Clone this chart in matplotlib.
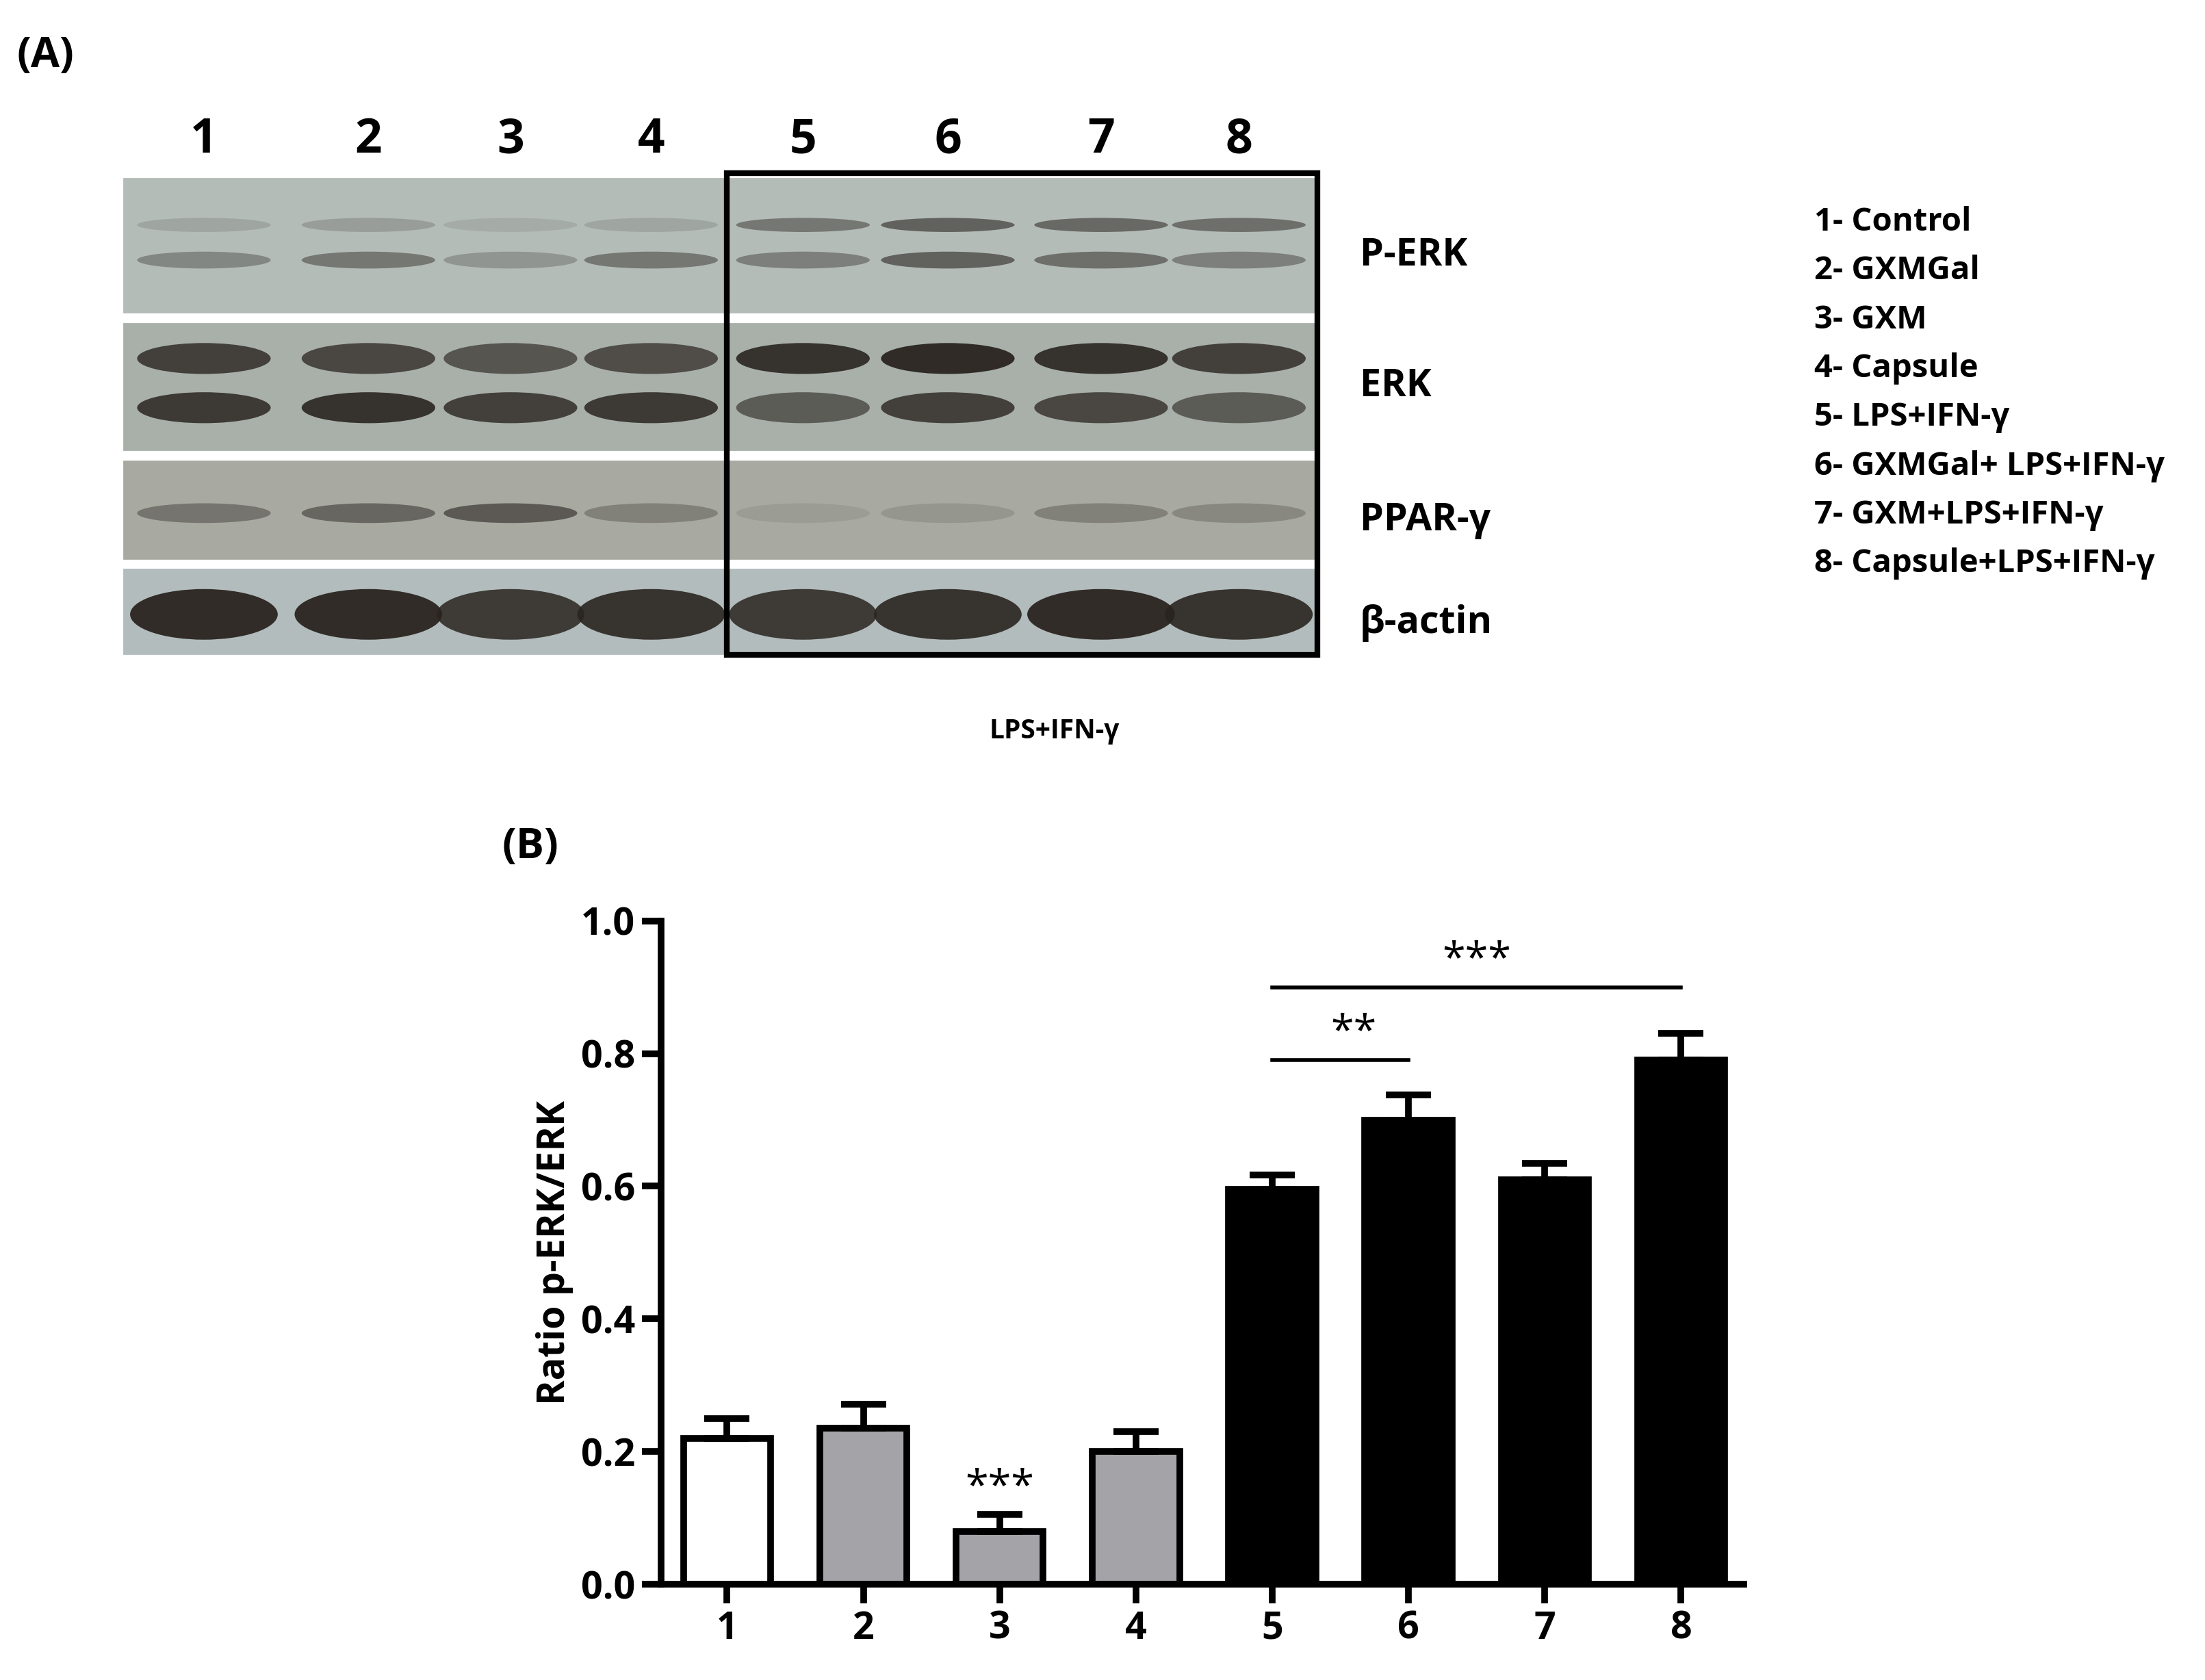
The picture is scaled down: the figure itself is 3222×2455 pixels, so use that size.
import matplotlib
matplotlib.use("Agg")
import matplotlib.pyplot as plt
from matplotlib.patches import Rectangle, Ellipse
import numpy as np

plt.rcParams['font.family'] = ['Open Sans', 'DejaVu Sans']

# Panel B data
lanes = [1, 2, 3, 4, 5, 6, 7, 8]
ratio = [0.22, 0.235, 0.08, 0.20, 0.595, 0.70, 0.61, 0.79]
err = [0.03, 0.037, 0.025, 0.03, 0.022, 0.038, 0.025, 0.04]
bar_colors = ["white", "#a3a3a8", "#a3a3a8", "#a3a3a8", "black", "black", "black", "black"]

# Panel A (blot) approximations: band intensities per lane
row_names = ["P-ERK", "ERK", "PPAR-γ", "β-actin"]
perk_top = [0.15, 0.2, 0.1, 0.15, 0.45, 0.6, 0.55, 0.5]
perk_bot = [0.35, 0.45, 0.25, 0.45, 0.4, 0.6, 0.5, 0.4]
erk_top = [0.8, 0.75, 0.65, 0.7, 0.9, 0.95, 0.9, 0.8]
erk_bot = [0.85, 0.9, 0.8, 0.85, 0.6, 0.8, 0.75, 0.6]
ppar = [0.4, 0.5, 0.6, 0.3, 0.1, 0.15, 0.3, 0.25]
actin = [0.95, 0.95, 0.85, 0.9, 0.85, 0.9, 0.95, 0.9]
legend_items = ["1- Control", "2- GXMGal", "3- GXM", "4- Capsule", "5- LPS+IFN-γ",
                "6- GXMGal+ LPS+IFN-γ", "7- GXM+LPS+IFN-γ", "8- Capsule+LPS+IFN-γ"]

W, H = 1568, 1195
fig = plt.figure(figsize=(3222 / 200, 2455 / 200), dpi=200)
ax0 = fig.add_axes([0, 0, 1, 1])
ax0.set_xlim(0, W)
ax0.set_ylim(H, 0)
ax0.axis("off")

lane_x = [145, 262, 363, 463, 571, 674, 783, 881]
rows = [(127, 222, "#b4bcb8"), (230, 320, "#a9b0aa"), (328, 397, "#a8aaa2"), (405, 465, "#b2bcbc")]
for (y0, y1, c) in rows:
    ax0.add_patch(Rectangle((88, y0), 849, y1 - y0, color=c, zorder=1))


def bands(vals, yc, h, w=95):
    for x, v in zip(lane_x, vals):
        ax0.add_patch(Ellipse((x, yc), w, h, color="#2a2420", alpha=v, lw=0, zorder=2))


bands(perk_top, 160, 10)
bands(perk_bot, 185, 12)
bands(erk_top, 255, 22)
bands(erk_bot, 290, 22)
bands(ppar, 365, 14)
bands(actin, 437, 36, 105)
ax0.add_patch(Rectangle((517, 123), 420, 343, fill=False, lw=3, ec="black", zorder=3))

for i, x in enumerate(lane_x):
    ax0.text(x, 100, str(lanes[i]), ha="center", va="center", fontsize=25, fontweight="bold")
for name, yc in zip(row_names, [182, 275, 370, 443]):
    ax0.text(967, yc, name, ha="left", va="center", fontsize=20, fontweight="bold")
for i, t in enumerate(legend_items):
    ax0.text(1290, 158 + i * 34.7, t, ha="left", va="center", fontsize=17, fontweight="bold")
ax0.text(750, 520, "LPS+IFN-γ", ha="center", va="center", fontsize=14, fontweight="bold")
ax0.text(12, 40, "(A)", ha="left", va="center", fontsize=22, fontweight="bold")
ax0.text(357, 603, "(B)", ha="left", va="center", fontsize=22, fontweight="bold")

# Panel B
ax = fig.add_axes([470 / W, 1 - 1127 / H, 770 / W, 472 / H])
ax.bar(lanes, ratio, width=0.64, color=bar_colors, edgecolor="black", linewidth=3.5,
       yerr=[np.zeros(len(err)), err], error_kw=dict(ecolor="black", elinewidth=3.5,
                                                    capsize=12, capthick=3.5))
ax.set_xlim(0.515, 8.46)
ax.set_ylim(0, 1.0)
ax.set_yticks(np.arange(0, 1.01, 0.2))
ax.set_yticklabels([f"{v:.1f}" for v in np.arange(0, 1.01, 0.2)])
ax.set_xticks(lanes)
for s in ["top", "right"]:
    ax.spines[s].set_visible(False)
for s in ["left", "bottom"]:
    ax.spines[s].set_linewidth(3.5)
ax.tick_params(width=3.5, length=10, labelsize=20)
for lab in ax.get_xticklabels() + ax.get_yticklabels():
    lab.set_fontweight("bold")
ax.set_ylabel("Ratio p-ERK/ERK", fontsize=20, fontweight="bold")

ax.plot([5, 6], [0.79, 0.79], color="black", lw=2)
ax.text(5.6, 0.80, "**", ha="center", va="bottom", fontsize=22)
ax.plot([5, 8], [0.90, 0.90], color="black", lw=2)
ax.text(6.5, 0.91, "***", ha="center", va="bottom", fontsize=22)
ax.text(3, 0.115, "***", ha="center", va="bottom", fontsize=22)

fig.savefig("out.png", dpi=200)
